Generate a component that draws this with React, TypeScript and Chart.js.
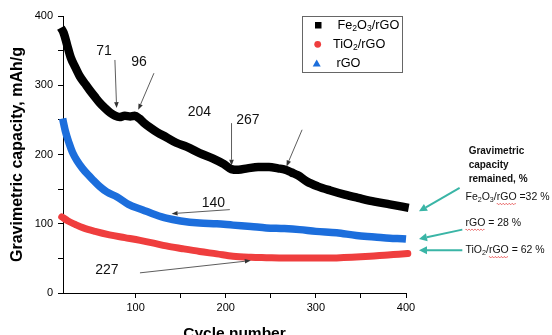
import React, { useEffect, useRef } from 'react';
import { Chart, registerables } from 'chart.js';

Chart.register(...registerables);

// ---- Data ----
const fe2o3Cycles = [17, 20, 24, 28, 33, 38, 44, 49, 55, 60, 66, 72, 77, 82, 88, 94, 99, 104, 109, 116, 124, 134, 145, 157, 171, 186, 198, 206, 214, 224, 236, 248, 258, 266, 273, 280, 290, 302, 316, 332, 348, 365, 382, 403];
const fe2o3Values = [383, 376, 358, 340, 326, 313, 302, 293, 283, 275, 267, 260, 256, 254, 256, 255, 256, 252, 246, 239, 232, 225, 217, 211, 202, 194, 186, 179, 178, 180, 182, 182, 180, 178, 174, 170, 161, 154, 148, 142, 137, 132, 128, 123];

const tio2Cycles = [18, 25, 33, 42, 55, 71, 88, 105, 120, 134, 152, 171, 190, 208, 228, 245, 265, 285, 305, 323, 340, 360, 380, 392, 402];
const tio2Values = [110, 104, 99, 94, 89, 84, 80, 76, 72, 68, 64, 60, 56.5, 53, 51.5, 51, 50.5, 50.5, 50.5, 50.7, 51.5, 53, 55, 56, 57];

const rgoCycles = [17, 19, 22, 26, 30, 35, 41, 47, 53, 60, 68, 79, 92, 108, 122, 134, 150, 171, 190, 208, 228, 245, 265, 282, 300, 323, 345, 365, 382, 400, 406];
const rgoValues = [266, 252, 234, 217, 203, 191, 180, 171, 163, 154, 146, 139, 128, 120, 113, 108, 104, 101, 100, 98, 96, 94, 93, 91.5, 89, 87, 83, 81, 79, 78, 77];

const xTickLabels = [100, 200, 300, 400];
const yTickLabels = [0, 100, 200, 300, 400];

const xTitle = 'Cycle number';
const yTitle = 'Gravimetric capacity, mAh/g';

// cycle-number call-outs (data coordinates)
const calloutTexts = ['71', '96', '204', '267', '140', '227'];
const calloutX = [64.9, 103.7, 170.7, 224.5, 186.3, 68.2];
const calloutY = [349.6, 333.7, 261.6, 250.1, 129.7, 32.4];

const pointerFromX = [77.0, 120.3, 206.4, 284.7, 204.5, 104.8];
const pointerFromY = [336.5, 317.4, 245.3, 235.7, 120.4, 29.1];
const pointerToX = [78.9, 102.9, 206.4, 267.4, 139.9, 227.8];
const pointerToY = [267, 264.5, 183.8, 182.8, 114.6, 46.8];

// retained capacity notes
const retainedTitle = ['Gravimetric', 'capacity', 'remained, %'];
const retainedFe = 32;
const retainedRgo = 28;
const retainedTio2 = 62;

const FONT = '"Liberation Sans", Arial, sans-serif';
const BLACK = '#000000';
const RED = '#ef3e3e';
const BLUE = '#1c6edc';
const TEAL = '#3ab5a6';

type Seg = { t: string; sub?: boolean; squiggle?: boolean };

function drawRich(ctx: CanvasRenderingContext2D, segs: Seg[], x: number, y: number, size: number, weight = 'normal', color = '#000') {
  let cx = x;
  ctx.save();
  ctx.textBaseline = 'middle';
  ctx.textAlign = 'left';
  ctx.fillStyle = color;
  for (const s of segs) {
    const fs = s.sub ? size * 0.68 : size;
    ctx.font = `${weight} ${fs}px ${FONT}`;
    const w = ctx.measureText(s.t).width;
    ctx.fillText(s.t, cx, s.sub ? y + size * 0.28 : y);
    if (s.squiggle) {
      ctx.save();
      ctx.strokeStyle = '#e23a3a';
      ctx.lineWidth = 0.8;
      ctx.beginPath();
      const yy = y + size * 0.62;
      for (let px = 0; px <= w; px += 1) {
        const py = yy + (Math.floor(px / 1.5) % 2 === 0 ? 0 : 1);
        if (px === 0) ctx.moveTo(cx + px, py);
        else ctx.lineTo(cx + px, py);
      }
      ctx.stroke();
      ctx.restore();
    }
    cx += w;
  }
  ctx.restore();
}

function arrow(ctx: CanvasRenderingContext2D, x1: number, y1: number, x2: number, y2: number, color: string, lw: number, headLen: number, headHalf: number) {
  const ang = Math.atan2(y2 - y1, x2 - x1);
  const bx = x2 - Math.cos(ang) * headLen;
  const by = y2 - Math.sin(ang) * headLen;
  ctx.save();
  ctx.strokeStyle = color;
  ctx.fillStyle = color;
  ctx.lineWidth = lw;
  ctx.beginPath();
  ctx.moveTo(x1, y1);
  ctx.lineTo(bx, by);
  ctx.stroke();
  ctx.beginPath();
  ctx.moveTo(x2, y2);
  ctx.lineTo(bx + Math.sin(ang) * headHalf, by - Math.cos(ang) * headHalf);
  ctx.lineTo(bx - Math.sin(ang) * headHalf, by + Math.cos(ang) * headHalf);
  ctx.closePath();
  ctx.fill();
  ctx.restore();
}

const annotationPlugin = {
  id: 'annotations',
  afterDraw(chart: any) {
    const ctx: CanvasRenderingContext2D = chart.ctx;
    const xs = chart.scales.x;
    const ys = chart.scales.y;
    const area = chart.chartArea;
    const X = (v: number) => xs.getPixelForValue(v);
    const Y = (v: number) => ys.getPixelForValue(v);

    // axis titles
    ctx.save();
    ctx.fillStyle = '#000';
    ctx.font = `bold 15.5px ${FONT}`;
    ctx.textAlign = 'center';
    ctx.textBaseline = 'alphabetic';
    ctx.fillText(xTitle, (area.left + area.right) / 2, area.bottom + 44.5);
    ctx.translate(21.5, (area.top + area.bottom) / 2);
    ctx.rotate(-Math.PI / 2);
    ctx.font = `bold 16px ${FONT}`;
    ctx.fillText(yTitle, 0, 0);
    ctx.restore();

    // call-outs
    ctx.save();
    ctx.fillStyle = '#111';
    ctx.font = `14px ${FONT}`;
    ctx.textAlign = 'center';
    ctx.textBaseline = 'middle';
    calloutTexts.forEach((t, i) => ctx.fillText(t, X(calloutX[i]), Y(calloutY[i])));
    ctx.restore();
    pointerFromX.forEach((_, i) => {
      arrow(ctx, X(pointerFromX[i]), Y(pointerFromY[i]), X(pointerToX[i]), Y(pointerToY[i]), '#333', 0.8, 6, 2.3);
    });

    // legend
    const lx = area.right - 104;
    const ly = area.top;
    ctx.save();
    ctx.strokeStyle = '#666';
    ctx.lineWidth = 1;
    ctx.strokeRect(lx + 0.5, ly + 0.5, 100, 56);
    ctx.fillStyle = BLACK;
    ctx.fillRect(lx + 13, ly + 6, 6.5, 6.5);
    ctx.fillStyle = RED;
    ctx.beginPath();
    ctx.arc(lx + 15.7, ly + 28.3, 3.4, 0, Math.PI * 2);
    ctx.fill();
    ctx.fillStyle = BLUE;
    ctx.beginPath();
    ctx.moveTo(lx + 14.7, ly + 43.5);
    ctx.lineTo(lx + 18.7, ly + 50.5);
    ctx.lineTo(lx + 10.7, ly + 50.5);
    ctx.closePath();
    ctx.fill();
    ctx.restore();
    drawRich(ctx, [{ t: 'Fe' }, { t: '2', sub: true }, { t: 'O' }, { t: '3', sub: true }, { t: '/rGO' }], lx + 35.5, ly + 9, 12.7);
    drawRich(ctx, [{ t: 'TiO' }, { t: '2', sub: true }, { t: '/rGO' }], lx + 31, ly + 28.5, 12.7);
    drawRich(ctx, [{ t: 'rGO' }], lx + 34.5, ly + 47.3, 12.7);

    // retained capacity block
    ctx.save();
    ctx.fillStyle = '#111';
    ctx.font = `bold 10px ${FONT}`;
    ctx.textAlign = 'left';
    ctx.textBaseline = 'middle';
    const ty = [205.4, 183.8, 163.6];
    retainedTitle.forEach((t, i) => ctx.fillText(t, X(469.5), Y(ty[i])));
    ctx.restore();
    drawRich(ctx, [{ t: 'Fe' }, { t: '2', sub: true }, { t: 'O' }, { t: '3', sub: true }, { t: '/' }, { t: 'rGO', squiggle: true }, { t: ` =${retainedFe} %` }], X(466), Y(138.4), 10.5, 'normal', '#111');
    drawRich(ctx, [{ t: 'rGO', squiggle: true }, { t: ` = ${retainedRgo} %` }], X(466), Y(101.2), 10.5, 'normal', '#111');
    drawRich(ctx, [{ t: 'TiO' }, { t: '2', sub: true }, { t: '/' }, { t: 'rGO', squiggle: true }, { t: ` = ${retainedTio2} %` }], X(466), Y(61.7), 10.5, 'normal', '#111');

    arrow(ctx, X(459.5), Y(151.7), X(414.4), Y(117.9), TEAL, 2, 8, 4);
    arrow(ctx, X(462.5), Y(91.5), X(414.4), Y(78.1), TEAL, 2, 8, 4);
    arrow(ctx, X(462.5), Y(61.7), X(414.4), Y(61.7), TEAL, 2, 8, 4);
  },
};

function toPoints(xs: number[], ys: number[]) {
  return xs.map((x, i) => ({ x, y: ys[i] }));
}

export default function App() {
  const ref = useRef<HTMLCanvasElement>(null);
  useEffect(() => {
    document.body.style.margin = '0';
    const canvas = ref.current!;
    const chart = new Chart(canvas, {
      type: 'line',
      data: {
        datasets: [
          {
            label: 'Fe2O3/rGO',
            data: toPoints(fe2o3Cycles, fe2o3Values),
            borderColor: BLACK,
            backgroundColor: BLACK,
            borderWidth: 8.5,
            pointRadius: 0,
            cubicInterpolationMode: 'monotone',
            clip: false,
          } as any,
          {
            label: 'TiO2/rGO',
            data: toPoints(tio2Cycles, tio2Values),
            borderColor: RED,
            backgroundColor: RED,
            borderWidth: 7,
            pointRadius: 0,
            borderCapStyle: 'round',
            cubicInterpolationMode: 'monotone',
            clip: false,
          } as any,
          {
            label: 'rGO',
            data: toPoints(rgoCycles, rgoValues),
            borderColor: BLUE,
            backgroundColor: BLUE,
            borderWidth: 7.5,
            pointRadius: 0,
            cubicInterpolationMode: 'monotone',
            clip: false,
          } as any,
        ],
      },
      options: {
        responsive: false,
        animation: false,
        events: [],
        layout: { padding: { top: 16, right: 146, left: 0, bottom: 0 } },
        plugins: { legend: { display: false }, tooltip: { enabled: false } },
        scales: {
          x: {
            type: 'linear',
            min: 19.4,
            max: 400,
            afterBuildTicks: (s: any) => {
              s.ticks = s.ticks.filter((t: any) => t.value % 50 === 0);
            },
            afterFit: (s: any) => {
              s.height = 42;
            },
            ticks: {
              stepSize: 50,
              autoSkip: false,
              maxRotation: 0,
              padding: 3,
              color: '#000',
              font: { family: FONT, size: 11 },
              callback: (v: any) => (xTickLabels.includes(v) ? String(v) : ''),
            },
            grid: { drawOnChartArea: false, drawTicks: true, tickLength: 5, color: '#000' },
            border: { display: true, color: '#000', width: 1 },
          },
          y: {
            type: 'linear',
            min: 0,
            max: 400,
            afterBuildTicks: (s: any) => {
              s.ticks = s.ticks.filter((t: any) => t.value % 50 === 0);
            },
            afterFit: (s: any) => {
              s.width = 63;
            },
            ticks: {
              stepSize: 50,
              autoSkip: false,
              padding: 5,
              color: '#000',
              font: { family: FONT, size: 11 },
              callback: (v: any) => (yTickLabels.includes(v) ? String(v) : ''),
            },
            grid: { drawOnChartArea: false, drawTicks: true, tickLength: 5, color: '#000' },
            border: { display: true, color: '#000', width: 1 },
          },
        },
      },
      plugins: [annotationPlugin],
    });
    return () => chart.destroy();
  }, []);
  return (
    <div style={{ width: 552, height: 335, background: '#fff', overflow: 'hidden' }}>
      <canvas ref={ref} width={552} height={335} style={{ display: 'block' }} />
    </div>
  );
}
